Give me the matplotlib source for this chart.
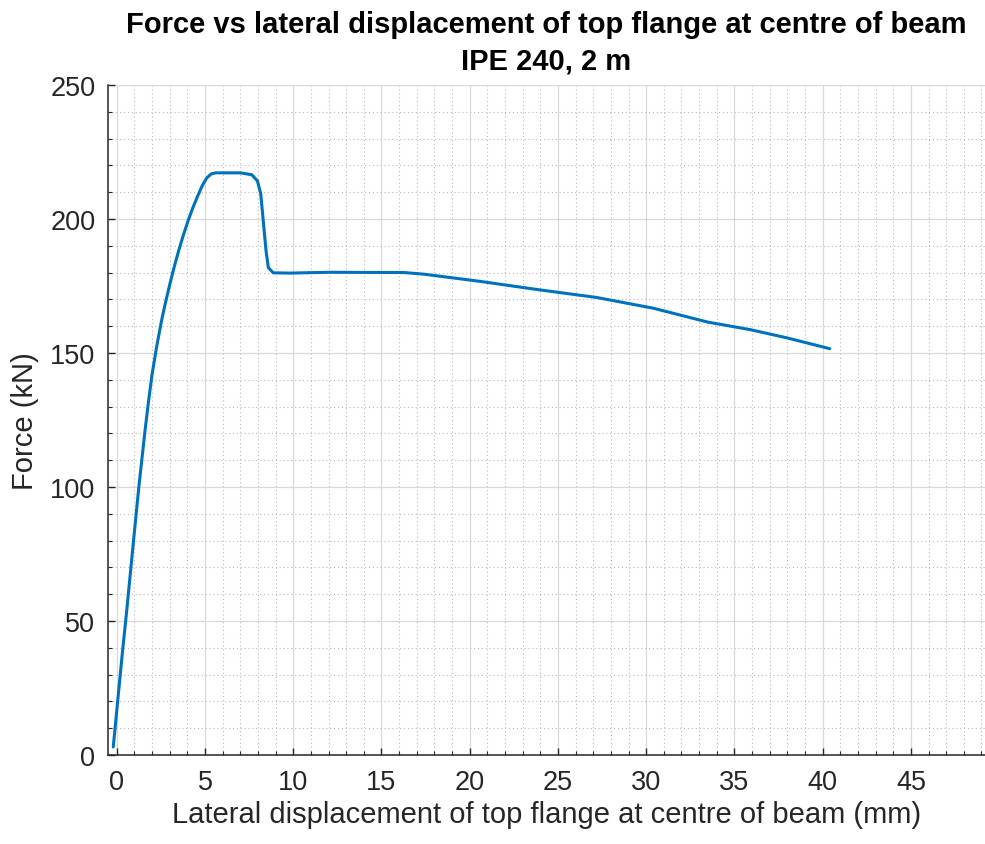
import matplotlib
matplotlib.use("Agg")
import matplotlib.pyplot as plt
from matplotlib.ticker import MultipleLocator

# lateral displacement (mm) and force (kN)
disp_mm = [-0.2, 0.3, 0.55, 0.95, 1.25, 1.6, 1.8, 2.0, 2.25, 2.55, 2.75, 3.0, 3.25,
           3.5, 3.75, 4.05, 4.3, 4.6, 4.85, 5.1, 5.35, 5.6, 7.0, 7.65, 7.97, 8.16,
           8.3, 8.46, 8.59, 8.87, 9.8, 12.0, 16.3, 17.4, 20.6, 23.9, 27.2, 30.4,
           33.5, 35.9, 38.0, 40.4]
force_kn = [3, 37, 53, 80, 100, 121, 132, 142, 152, 162.5, 168.5, 175.5, 182,
            188, 193.5, 199.5, 204, 208.8, 212.5, 215.3, 216.8, 217.2, 217.2, 216.5, 214.2, 209.3,
            199.3, 188, 181.8, 179.9, 179.8, 180.1, 180.0, 179.4, 176.7, 173.6, 170.7, 166.7,
            161.5, 158.7, 155.6, 151.6]

x_ticks = [0, 5, 10, 15, 20, 25, 30, 35, 40, 45]
y_ticks = [0, 50, 100, 150, 200, 250]

title_lines = ["Force vs lateral displacement of top flange at centre of beam",
               "IPE 240, 2 m"]

plt.rcParams["font.family"] = ["Liberation Sans", "DejaVu Sans"]

fig = plt.figure(figsize=(9.85, 8.45), dpi=100)
ax = fig.add_axes([0.1096, 0.1053, 0.8904, 0.793])

ax.plot(disp_mm, force_kn, color="#0072BD", lw=2.2, solid_capstyle="round",
        solid_joinstyle="round")

ax.set_xlim(-0.5, 49.2)
ax.set_ylim(0, 250)
ax.set_xticks(x_ticks)
ax.set_yticks(y_ticks)
ax.xaxis.set_minor_locator(MultipleLocator(1))
ax.yaxis.set_minor_locator(MultipleLocator(10))

ax.grid(which="major", color="#d8d8d8", lw=0.9, ls="-")
ax.grid(which="minor", color="#b8b8b8", lw=0.8, ls=(0, (1, 2.5)))
ax.set_axisbelow(True)

for s in ["top", "right"]:
    ax.spines[s].set_visible(False)
for s in ["left", "bottom"]:
    ax.spines[s].set_color("#262626")
    ax.spines[s].set_linewidth(1.1)

ax.tick_params(which="major", direction="in", length=5, width=1, color="#262626",
               labelsize=19.5, labelcolor="#262626")
ax.tick_params(axis="x", which="major", pad=10)
ax.tick_params(axis="y", which="major", pad=9)
ax.tick_params(which="minor", direction="in", length=3, width=0.8, color="#262626")

ax.set_xlabel("Lateral displacement of top flange at centre of beam (mm)",
              fontsize=21, color="#262626", labelpad=4)
ax.set_ylabel("Force (kN)", fontsize=21, color="#262626", labelpad=8)

title_x = ax.get_position().x0 + ax.get_position().width / 2
fig.text(title_x, 1 - 33 / 845, title_lines[0], ha="center", va="baseline",
         fontsize=21, fontweight="bold")
fig.text(title_x, 1 - 69 / 845, title_lines[1], ha="center", va="baseline",
         fontsize=21, fontweight="bold")

fig.savefig("out.png", dpi=100)
